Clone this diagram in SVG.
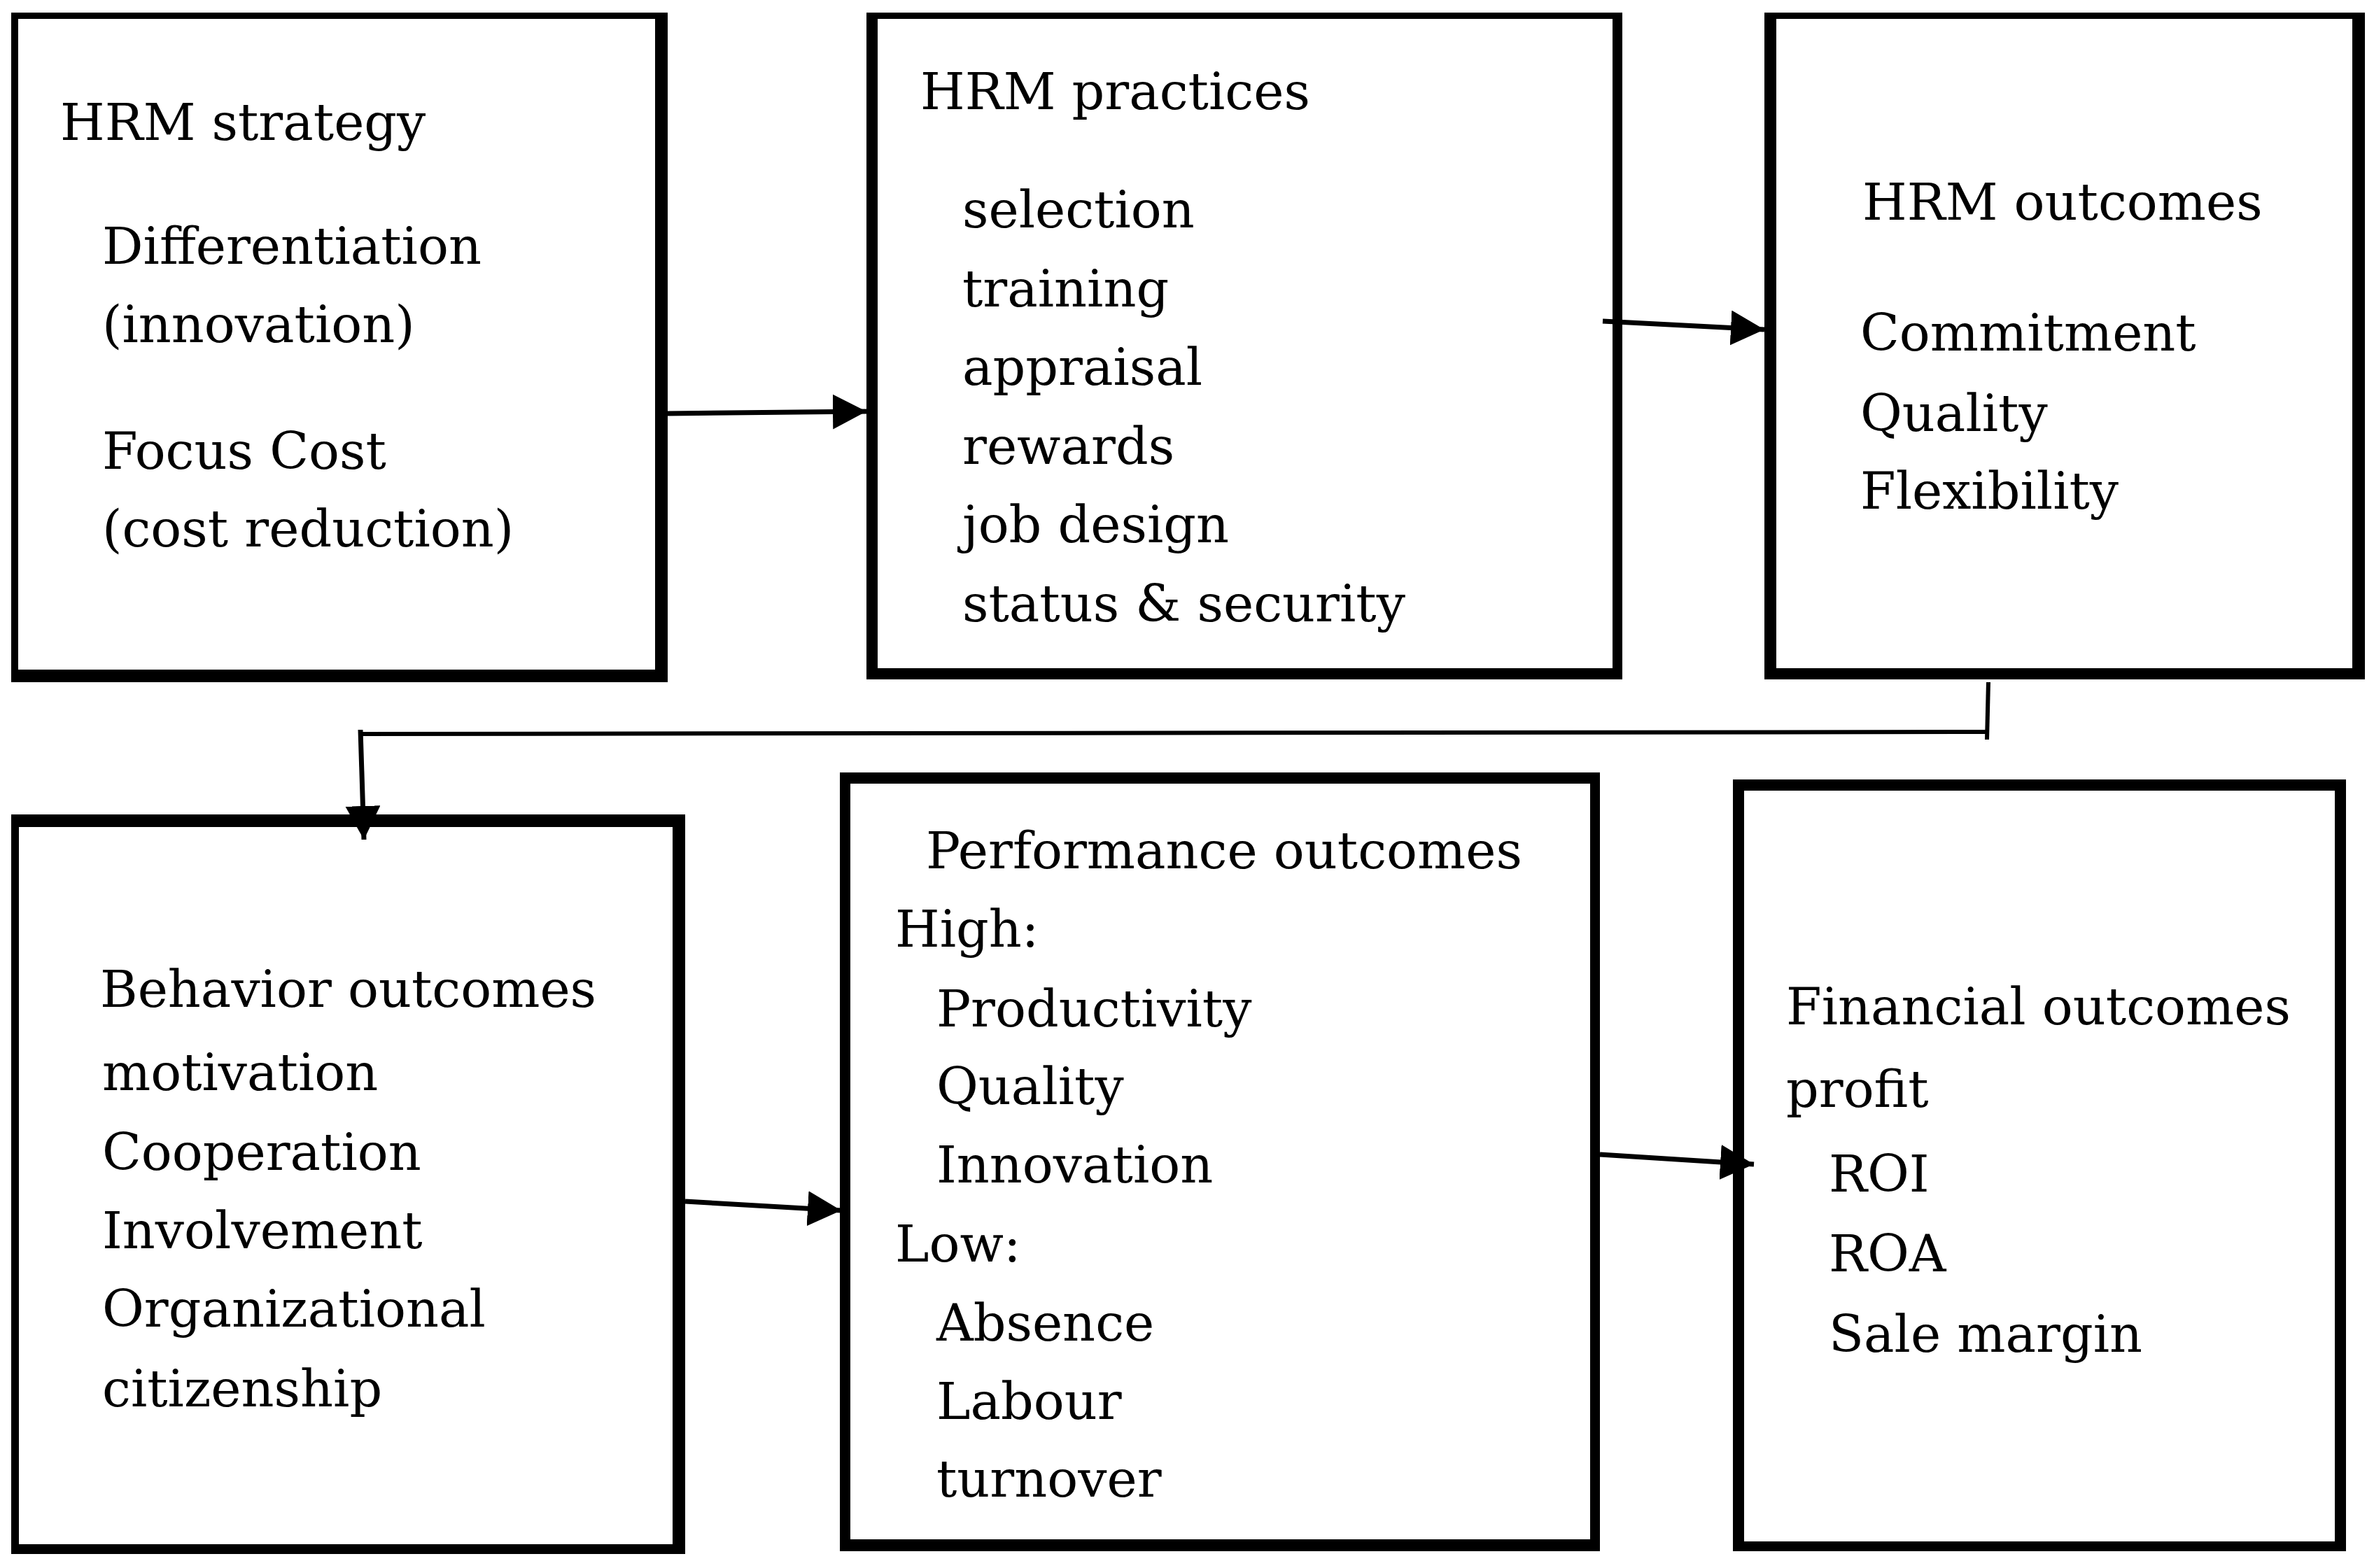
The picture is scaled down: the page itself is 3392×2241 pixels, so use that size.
<svg xmlns="http://www.w3.org/2000/svg" width="3392" height="2241" viewBox="0 0 3392 2241">
<style>
.frame{fill:#000}
.inner{fill:#fff}
.t{font-family:"DejaVu Serif","Liberation Serif",serif;font-size:73px;fill:#000}
.arrow{stroke:#000;stroke-width:7;fill:none;marker-end:url(#head)}
.line{stroke:#000;stroke-width:6;fill:none}
</style>
<defs>
<marker id="head" markerUnits="userSpaceOnUse" markerWidth="52" markerHeight="52" refX="48" refY="25" orient="auto">
<path d="M0,0 L48,25 L0,50 Z" fill="#000"/>
</marker>
</defs>
<rect width="3392" height="2241" fill="#fff"/>

<g id="hrm-strategy">
<rect class="frame" x="16" y="18" width="938" height="957"/>
<rect class="inner" x="26" y="27" width="910" height="930"/>
<text class="t" x="86" y="200">HRM strategy</text>
<text class="t" x="146" y="377">Differentiation</text>
<text class="t" x="146" y="489">(innovation)</text>
<text class="t" x="146" y="670">Focus Cost</text>
<text class="t" x="146" y="781">(cost reduction)</text>
</g>

<g id="hrm-practices">
<rect class="frame" x="1238" y="18" width="1080" height="953"/>
<rect class="inner" x="1254" y="27" width="1050" height="928"/>
<text class="t" x="1315" y="156">HRM practices</text>
<text class="t" x="1375" y="325">selection</text>
<text class="t" x="1375" y="438">training</text>
<text class="t" x="1375" y="550">appraisal</text>
<text class="t" x="1375" y="663">rewards</text>
<text class="t" x="1375" y="775">job design</text>
<text class="t" x="1375" y="888">status &amp; security</text>
</g>

<g id="hrm-outcomes">
<rect class="frame" x="2521" y="18" width="858" height="953"/>
<rect class="inner" x="2538" y="27" width="823" height="928"/>
<text class="t" x="2661" y="314">HRM outcomes</text>
<text class="t" x="2658" y="501">Commitment</text>
<text class="t" x="2658" y="616">Quality</text>
<text class="t" x="2658" y="727">Flexibility</text>
</g>

<g id="behavior-outcomes">
<rect class="frame" x="16" y="1164" width="963" height="1057"/>
<rect class="inner" x="27" y="1182" width="934" height="1025"/>
<text class="t" x="143" y="1439">Behavior outcomes</text>
<text class="t" x="146" y="1558">motivation</text>
<text class="t" x="146" y="1672">Cooperation</text>
<text class="t" x="146" y="1784">Involvement</text>
<text class="t" x="146" y="1896">Organizational</text>
<text class="t" x="146" y="2010">citizenship</text>
</g>

<g id="performance-outcomes">
<rect class="frame" x="1200" y="1104" width="1086" height="1113"/>
<rect class="inner" x="1215" y="1120" width="1057" height="1080"/>
<text class="t" x="1323" y="1241">Performance outcomes</text>
<text class="t" x="1279" y="1353">High:</text>
<text class="t" x="1338" y="1467">Productivity</text>
<text class="t" x="1338" y="1578">Quality</text>
<text class="t" x="1338" y="1690">Innovation</text>
<text class="t" x="1279" y="1803">Low:</text>
<text class="t" x="1338" y="1916">Absence</text>
<text class="t" x="1338" y="2028">Labour</text>
<text class="t" x="1338" y="2139">turnover</text>
</g>

<g id="financial-outcomes">
<rect class="frame" x="2476" y="1114" width="876" height="1103"/>
<rect class="inner" x="2492" y="1130" width="844" height="1073"/>
<text class="t" x="2552" y="1464">Financial outcomes</text>
<text class="t" x="2552" y="1582">profit</text>
<text class="t" x="2613" y="1703">ROI</text>
<text class="t" x="2613" y="1817">ROA</text>
<text class="t" x="2613" y="1932">Sale margin</text>
</g>

<g id="connectors">
<line class="arrow" x1="954" y1="591" x2="1238" y2="588"/>
<line class="arrow" x1="2290" y1="459" x2="2521" y2="471"/>
<line class="line" x1="2841" y1="975" x2="2839" y2="1057"/>
<line class="line" x1="2841" y1="1046" x2="512" y2="1049"/>
<line class="arrow" x1="515" y1="1043" x2="520" y2="1200"/>
<line class="arrow" x1="979" y1="1717" x2="1202" y2="1730"/>
<line class="arrow" x1="2286" y1="1650" x2="2506" y2="1664"/>
</g>
</svg>
